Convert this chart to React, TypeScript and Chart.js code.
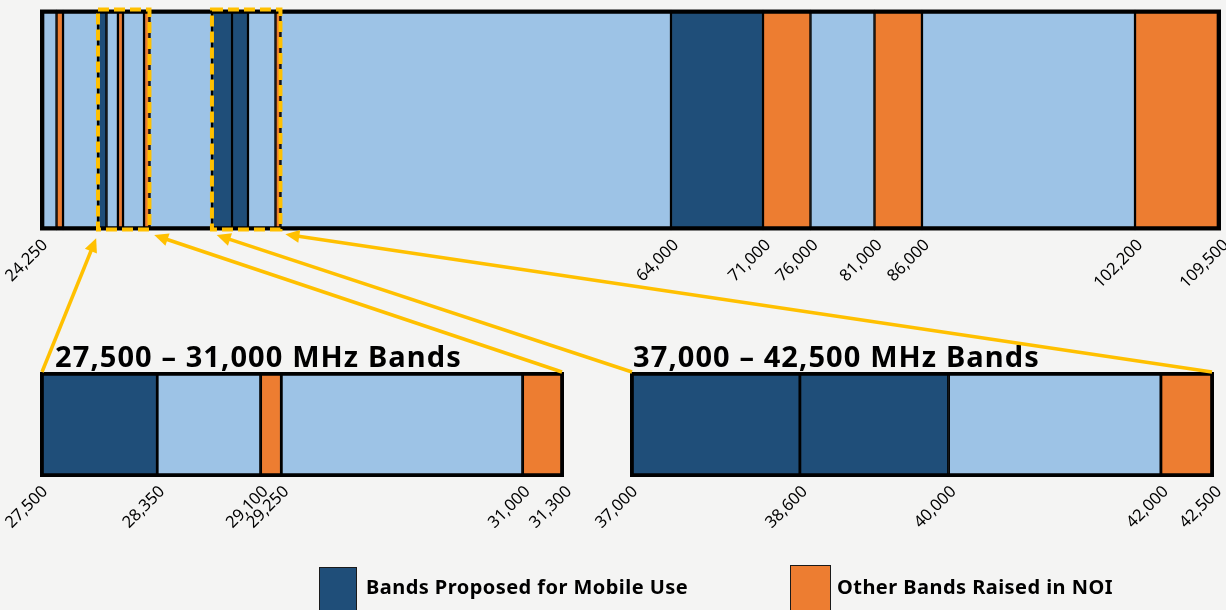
import React, { useEffect, useRef } from 'react';
import { Chart, registerables, LinearScale } from 'chart.js';

Chart.register(...registerables);

// ---------------- data ----------------
// Overview bar: band edges (MHz) and the kind of each band between two edges
const topEdges = [24250, 24750, 25250, 27500, 28350, 29100, 29250, 31000, 31300, 37000, 38600, 40000, 42000, 42500, 64000, 71000, 76000, 81000, 86000, 102200, 109500];
const topKinds = ['other', 'noi', 'other', 'mobile', 'other', 'noi', 'other', 'noi', 'other', 'mobile', 'mobile', 'other', 'noi', 'other', 'mobile', 'noi', 'other', 'noi', 'other', 'noi'];
const topTickLabels = [24250, 64000, 71000, 76000, 81000, 86000, 102200, 109500];

// Zoomed windows
const zoomWindows = [[27500, 31300], [37000, 42500]];
const zoomTitles = ['27,500 \u2013 31,000 MHz Bands', '37,000 \u2013 42,500 MHz Bands'];

const leftEdges = [27500, 28350, 29100, 29250, 31000, 31300];
const leftKinds = ['mobile', 'other', 'noi', 'other', 'noi'];

const rightEdges = [37000, 38600, 40000, 42000, 42500];
const rightKinds = ['mobile', 'mobile', 'other', 'noi'];

const legendKinds = ['mobile', 'noi'];
const legendLabels = ['Bands Proposed for Mobile Use', 'Other Bands Raised in NOI'];

// ---------------- styles ----------------
const palette: Record<string, string> = { mobile: '#1F4E79', other: '#9DC3E6', noi: '#ED7D31' };
const YELLOW = '#FFC000';
const BG = '#f4f4f3';

// The overview bar is drawn schematically (not to scale): a piecewise-linear axis.
const topAxisStops = [24250, 24750, 25250, 27500, 28350, 29100, 29250, 31000, 31300, 37000, 38600, 40000, 42000, 42500, 64000, 71000, 76000, 81000, 86000, 102200, 109500];
const topAxisFractions = [0, 0.014, 0.0195, 0.0491, 0.0563, 0.066, 0.0703, 0.0881, 0.0927, 0.1456, 0.1626, 0.1761, 0.1994, 0.2036, 0.5343, 0.6122, 0.6524, 0.7066, 0.7468, 0.9272, 1];

class BrokenLinearScale extends LinearScale {
  static id = 'brokenLinear';
  static defaults = LinearScale.defaults;
  decimalFor(value: number): number {
    const s: number[] = (this.options as any).stops;
    const f: number[] = (this.options as any).fractions;
    let i = 1;
    while (i < s.length - 1 && value > s[i]) i++;
    const t = (value - s[i - 1]) / (s[i] - s[i - 1]);
    return f[i - 1] + t * (f[i] - f[i - 1]);
  }
  getPixelForValue(value: number) {
    if (value === null || value === undefined || isNaN(value)) return NaN;
    return this.getPixelForDecimal(this.decimalFor(value));
  }
  getValueForPixel(pixel: number) {
    const d = this.getDecimalForPixel(pixel);
    const s: number[] = (this.options as any).stops;
    const f: number[] = (this.options as any).fractions;
    let i = 1;
    while (i < f.length - 1 && d > f[i]) i++;
    const t = (d - f[i - 1]) / (f[i] - f[i - 1]);
    return s[i - 1] + t * (s[i] - s[i - 1]);
  }
}
Chart.register(BrokenLinearScale as any);

const fmt = (v: number | string) => Number(v).toLocaleString('en-US');

const zoomBoxPlugin = {
  id: 'zoomBoxes',
  afterDatasetsDraw(chart: any) {
    const { ctx, chartArea, scales } = chart;
    ctx.save();
    ctx.strokeStyle = YELLOW;
    ctx.lineWidth = 4;
    ctx.setLineDash([11, 5]);
    zoomWindows.forEach(([a, b]) => {
      const xa = scales.x.getPixelForValue(a);
      const xb = scales.x.getPixelForValue(b);
      ctx.strokeRect(xa, chartArea.top, xb - xa, chartArea.bottom - chartArea.top - 1);
    });
    ctx.restore();
  },
};

function bandChart(
  canvas: HTMLCanvasElement,
  edges: number[],
  kinds: string[],
  tickValues: number[],
  cfg: { xScale: any; padding: any; axisHeight: number; frame: number; sep: number; plugins?: any[] }
) {
  const segs = kinds.map((k, i) => ({ x: [edges[i], edges[i + 1]], y: 'band' }));
  return new Chart(canvas, {
    type: 'bar',
    data: {
      labels: ['band'],
      datasets: [
        {
          data: [{ x: [edges[0], edges[edges.length - 1]], y: 'band' }],
          backgroundColor: 'rgba(0,0,0,0)',
          borderColor: '#000',
          borderWidth: cfg.frame,
          borderSkipped: false,
          grouped: false,
          order: 0,
          barPercentage: 1,
          categoryPercentage: 1,
        } as any,
        {
          data: segs,
          backgroundColor: kinds.map((k) => palette[k]),
          borderColor: '#000',
          borderWidth: cfg.sep,
          borderSkipped: false,
          grouped: false,
          order: 1,
          barPercentage: 1,
          categoryPercentage: 1,
        } as any,
      ],
    },
    options: {
      indexAxis: 'y',
      responsive: false,
      animation: false,
      events: [],
      layout: { padding: cfg.padding },
      plugins: { legend: { display: false }, tooltip: { enabled: false }, title: { display: false } },
      scales: {
        x: {
          ...cfg.xScale,
          min: edges[0],
          max: edges[edges.length - 1],
          grid: { display: false, drawTicks: false },
          border: { display: false },
          afterBuildTicks: (s: any) => {
            s.ticks = tickValues.map((v) => ({ value: v }));
          },
          afterFit: (s: any) => {
            s.height = cfg.axisHeight;
          },
          ticks: {
            autoSkip: false,
            minRotation: 45,
            maxRotation: 45,
            padding: 5,
            labelOffset: 5,
            color: '#000',
            font: { family: '"Noto Sans", sans-serif', size: 16.5 },
            callback: (v: any) => fmt(v),
          },
        },
        y: { display: false },
      },
    } as any,
    plugins: cfg.plugins || [],
  });
}

function drawArrow(ctx: CanvasRenderingContext2D, x0: number, y0: number, x1: number, y1: number) {
  const ang = Math.atan2(y1 - y0, x1 - x0);
  const c = Math.cos(ang), s = Math.sin(ang);
  const head = 14, half = 6.5;
  ctx.beginPath();
  ctx.moveTo(x0, y0);
  ctx.lineTo(x1 - head * 0.7 * c, y1 - head * 0.7 * s);
  ctx.stroke();
  ctx.beginPath();
  ctx.moveTo(x1, y1);
  ctx.lineTo(x1 - head * c - half * s, y1 - head * s + half * c);
  ctx.lineTo(x1 - head * c + half * s, y1 - head * s - half * c);
  ctx.closePath();
  ctx.fill();
}

const TOP_POS = { left: -20, top: 0, w: 1270, h: 300 };
const LEFT_POS = { left: -20, top: 330, w: 620, h: 220 };
const RIGHT_POS = { left: 570, top: 330, w: 680, h: 220 };

export default function App() {
  const topRef = useRef<HTMLCanvasElement>(null);
  const leftRef = useRef<HTMLCanvasElement>(null);
  const rightRef = useRef<HTMLCanvasElement>(null);
  const overlayRef = useRef<HTMLCanvasElement>(null);

  useEffect(() => {
    const top = bandChart(topRef.current!, topEdges, topKinds, topTickLabels, {
      xScale: { type: 'brokenLinear', stops: topAxisStops, fractions: topAxisFractions },
      padding: { left: 60, right: 29, top: 9.5, bottom: 0 },
      axisHeight: 69.5,
      frame: 4,
      sep: 1.5,
      plugins: [zoomBoxPlugin],
    });
    const left = bandChart(leftRef.current!, leftEdges, leftKinds, leftEdges, {
      xScale: { type: 'linear' },
      padding: { left: 60, right: 36, top: 42, bottom: 0 },
      axisHeight: 73,
      frame: 3.5,
      sep: 1.75,
    });
    const right = bandChart(rightRef.current!, rightEdges, rightKinds, rightEdges, {
      xScale: { type: 'linear' },
      padding: { left: 60, right: 36, top: 42, bottom: 0 },
      axisHeight: 73,
      frame: 3.5,
      sep: 1.75,
    });

    const ov = overlayRef.current!;
    const ctx = ov.getContext('2d')!;
    ctx.clearRect(0, 0, ov.width, ov.height);
    ctx.strokeStyle = YELLOW;
    ctx.fillStyle = YELLOW;
    ctx.lineWidth = 3.5;
    const tx = (v: number) => top.scales.x.getPixelForValue(v) + TOP_POS.left;
    const tyBottom = top.chartArea.bottom + TOP_POS.top;
    const targets = [
      { chart: left, pos: LEFT_POS, win: zoomWindows[0] },
      { chart: right, pos: RIGHT_POS, win: zoomWindows[1] },
    ];
    targets.forEach(({ chart, pos, win }) => {
      const ca = chart.chartArea;
      const y0 = ca.top + pos.top;
      const starts = [ca.left + pos.left + 2, ca.right + pos.left - 2];
      win.forEach((v, i) => {
        const x1 = tx(v);
        const x0 = starts[i];
        const ang = Math.atan2(tyBottom - y0, x1 - x0);
        drawArrow(ctx, x0, y0, x1 - 5 * Math.cos(ang), tyBottom + 3 - 5 * Math.sin(ang));
      });
    });

    return () => {
      top.destroy();
      left.destroy();
      right.destroy();
    };
  }, []);

  const abs = (p: { left: number; top: number; w: number; h: number }): React.CSSProperties => ({
    position: 'absolute',
    left: p.left,
    top: p.top,
    width: p.w,
    height: p.h,
  });

  const titleStyle = (left: number): React.CSSProperties => ({
    position: 'absolute',
    left,
    top: 341,
    font: 'bold 29px "Noto Sans", sans-serif',
    letterSpacing: '1.1px',
    lineHeight: '29px',
    color: '#000',
    whiteSpace: 'nowrap',
  });

  return (
    <div
      style={{
        position: 'fixed',
        left: 0,
        top: 0,
        width: 1226,
        height: 610,
        overflow: 'hidden',
        background: BG,
      }}
    >
      <canvas ref={topRef} width={TOP_POS.w} height={TOP_POS.h} style={abs(TOP_POS)} />
      <canvas ref={leftRef} width={LEFT_POS.w} height={LEFT_POS.h} style={abs(LEFT_POS)} />
      <canvas ref={rightRef} width={RIGHT_POS.w} height={RIGHT_POS.h} style={abs(RIGHT_POS)} />
      <div style={titleStyle(55)}>{zoomTitles[0]}</div>
      <div style={titleStyle(633)}>{zoomTitles[1]}</div>
      <canvas
        ref={overlayRef}
        width={1226}
        height={610}
        style={{ position: 'absolute', left: 0, top: 0, width: 1226, height: 610, pointerEvents: 'none' }}
      />
      {legendKinds.map((k, i) => (
        <React.Fragment key={k}>
          <div
            style={{
              position: 'absolute',
              left: i === 0 ? 319 : 790,
              top: i === 0 ? 567 : 565,
              width: i === 0 ? 38 : 41,
              height: 60,
              background: palette[k],
              border: '1.5px solid #1a1a1a',
              boxSizing: 'border-box',
            }}
          />
          <div
            style={{
              position: 'absolute',
              left: i === 0 ? 366 : 837,
              top: 575,
              font: 'bold 20px "Noto Sans", sans-serif',
              letterSpacing: '0.45px',
              lineHeight: '24px',
              color: '#000',
              whiteSpace: 'nowrap',
            }}
          >
            {legendLabels[i]}
          </div>
        </React.Fragment>
      ))}
    </div>
  );
}
